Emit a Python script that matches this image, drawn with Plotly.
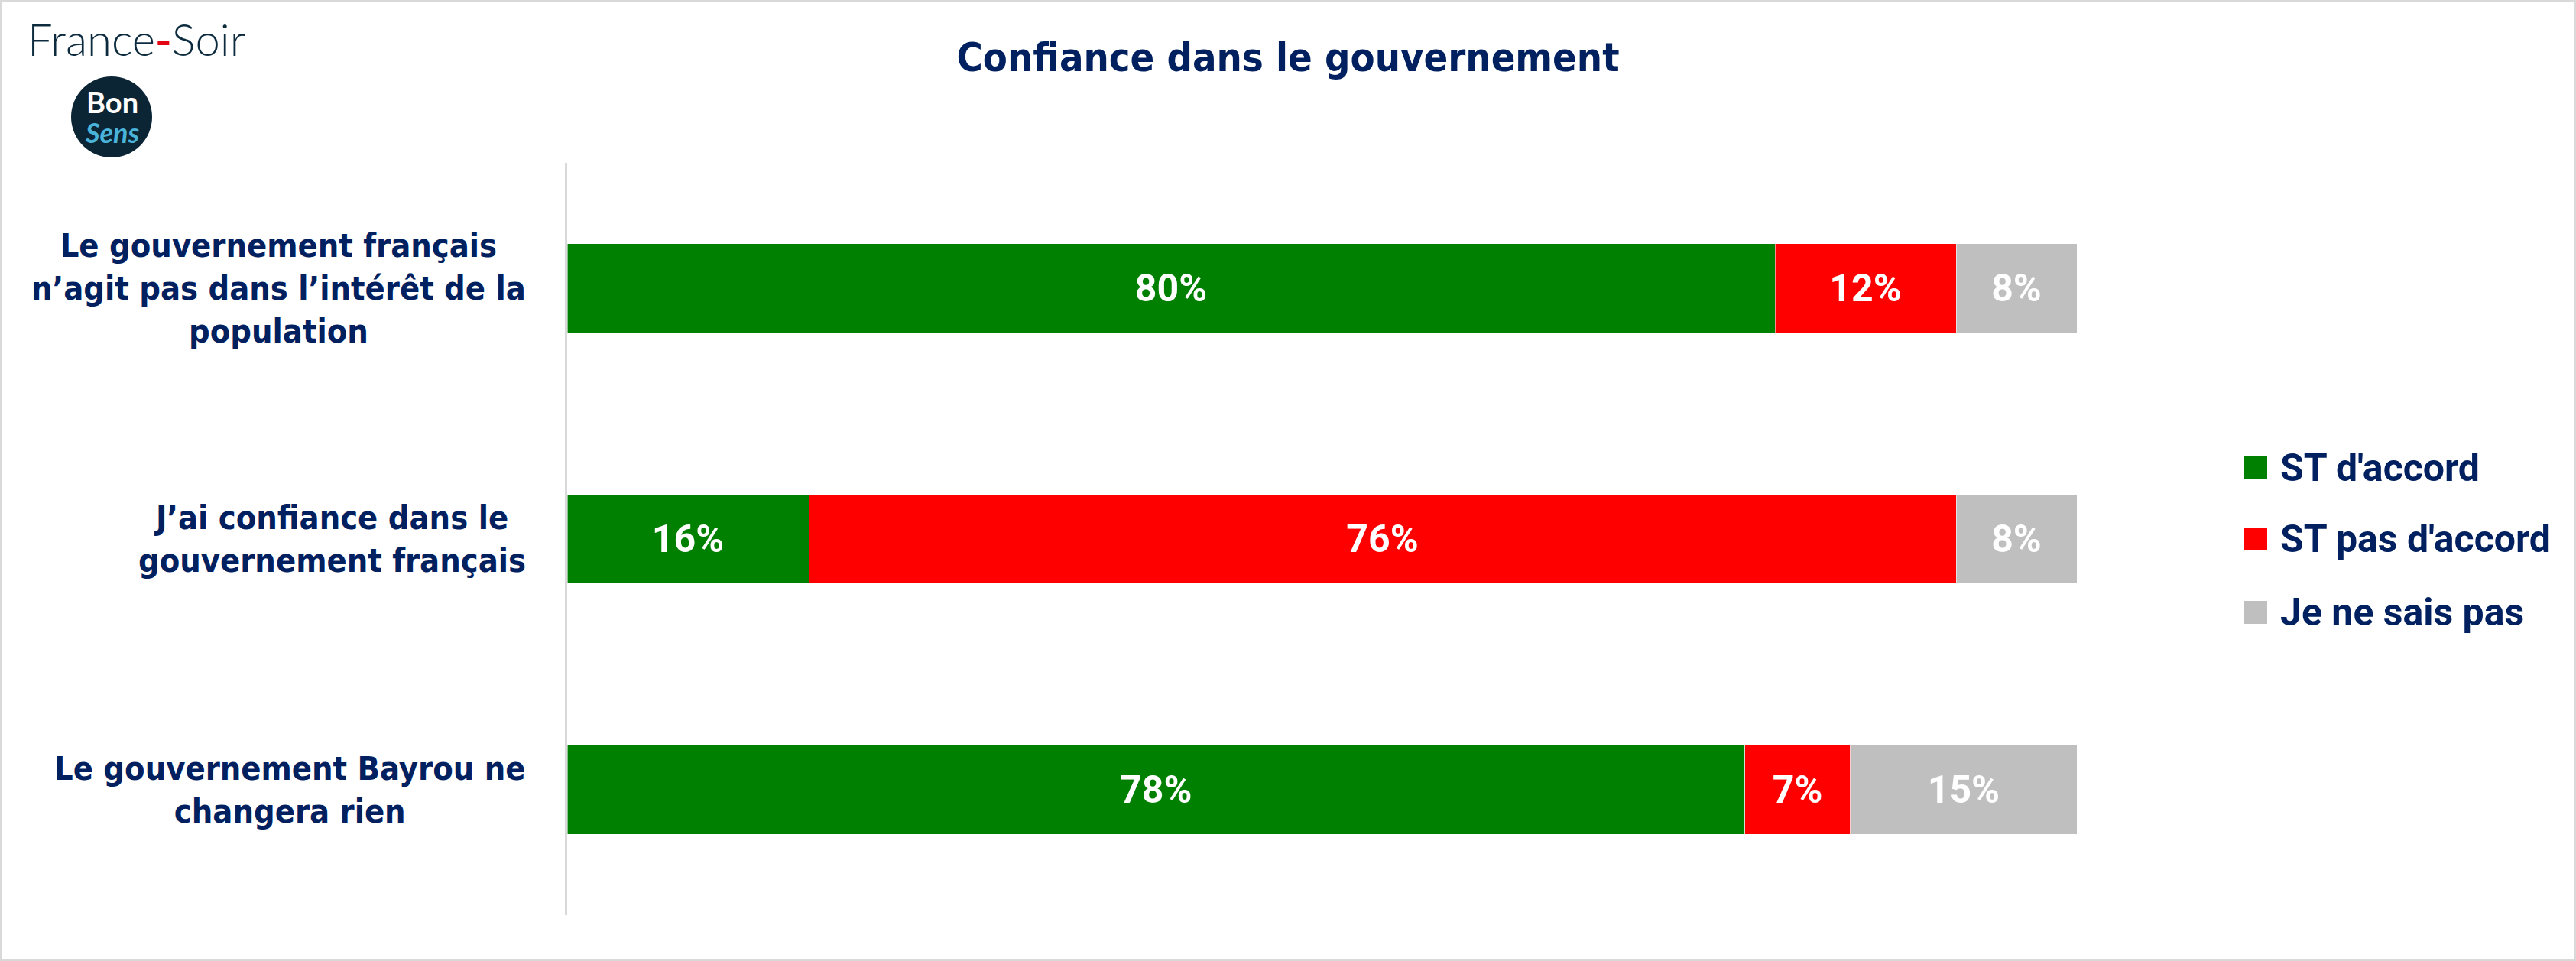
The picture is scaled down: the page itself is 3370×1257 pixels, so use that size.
import plotly.graph_objects as go

# ---------------- data ----------------
categories = [
    "Le gouvernement français<br>n’agit pas dans l’intérêt de la<br>population",
    "J’ai confiance dans le<br>gouvernement français",
    "Le gouvernement Bayrou ne<br>changera rien",
]
series_names = ["ST d'accord", "ST pas d'accord", "Je ne sais pas"]
st_accord = [80, 16, 78]
st_pas_accord = [12, 76, 7]
ne_sait_pas = [8, 8, 15]
series_values = [st_accord, st_pas_accord, ne_sait_pas]
series_colors = ["#008000", "#FF0000", "#BFBFBF"]
title_text = "Confiance dans le gouvernement"

# ---------------- layout constants ----------------
W, H = 3370, 1257
NAVY = "#002060"
COND = "Liberation Sans Narrow, DejaVu Sans Condensed, Arial Narrow, sans-serif"
LBL = "Roboto, Liberation Sans, sans-serif"

def px(x):
    return x / W

def py(y):
    return 1 - y / H

fig = go.Figure()
for name, vals, col in zip(series_names, series_values, series_colors):
    fig.add_trace(go.Bar(
        y=categories, x=vals, name=name, orientation="h",
        marker=dict(color=col, line=dict(color="rgba(255,255,255,0.55)", width=1)),
        texttemplate="%{x:.0f}%", textposition="inside", insidetextanchor="middle",
        textangle=0,
        textfont=dict(family=LBL, size=50, color="white", weight="bold"),
        showlegend=False, hoverinfo="skip",
    ))

annotations = []
shapes = []

# category labels (centered lines, block right-aligned)
for cat in categories:
    annotations.append(dict(
        x=px(690), xref="paper", y=cat, yref="y", xanchor="right", yanchor="middle",
        text=cat, showarrow=False, align="center",
        font=dict(family=COND, size=43, color=NAVY, weight="bold"),
    ))

# legend (manual)
leg_y = [612, 705, 801]
for name, col, yy in zip(series_names, series_colors, leg_y):
    shapes.append(dict(type="rect", xref="paper", yref="paper",
                       x0=px(2936), x1=px(2966), y0=py(yy + 15), y1=py(yy - 15),
                       fillcolor=col, line=dict(width=0)))
    annotations.append(dict(
        x=px(2981), y=py(yy), xref="paper", yref="paper", xanchor="left", yanchor="middle",
        text=name, showarrow=False,
        font=dict(family=LBL, size=50, color=NAVY, weight="bold"),
    ))

# France-Soir logo text
annotations.append(dict(
    x=px(34), y=py(50), xref="paper", yref="paper", xanchor="left", yanchor="middle",
    text="France<span style='color:#E30613'><b>-</b></span>Soir", showarrow=False,
    font=dict(family="Lato, Open Sans, sans-serif", size=58, color="#0D2B3E", weight=300),
))
# Bon Sens badge
shapes.append(dict(type="circle", xref="paper", yref="paper",
                   x0=px(93), x1=px(199), y0=py(206), y1=py(100),
                   fillcolor="#0B2535", line=dict(width=0)))
annotations.append(dict(
    x=px(147), y=py(153), xref="paper", yref="paper", xanchor="center", yanchor="middle",
    text="<span style='color:white;font-size:38px'><b>Bon</b></span><br>"
         "<span style='color:#4AB3D9;font-size:36px'><b><i>Sens</i></b></span>",
    showarrow=False, align="center",
    font=dict(family="Lato, Roboto, sans-serif", size=30, color="white"),
))

# outer border
shapes.append(dict(type="rect", xref="paper", yref="paper", x0=0, x1=1, y0=0, y1=1,
                   line=dict(color="#D9D9D9", width=6), fillcolor="rgba(0,0,0,0)"))

fig.update_layout(
    width=W, height=H,
    margin=dict(l=0, r=0, t=0, b=0),
    paper_bgcolor="white", plot_bgcolor="white",
    barmode="stack", bargap=0.646,
    title=dict(text=title_text, x=0.5, xanchor="center", y=py(75), yanchor="middle",
               font=dict(family=COND, size=52, color=NAVY, weight="bold")),
    xaxis=dict(domain=[px(742), px(2717)], range=[0, 100], visible=False, fixedrange=True),
    yaxis=dict(domain=[py(1197), py(213)], type="category", categoryorder="array",
               categoryarray=categories, autorange="reversed",
               showticklabels=False, showgrid=False, zeroline=False,
               showline=True, linecolor="#D9D9D9", linewidth=3, ticks=""),
    annotations=annotations, shapes=shapes,
    showlegend=False,
)

fig.write_html("out.html", config={"displayModeBar": False},
               post_script="document.body.style.margin='0';document.body.style.overflow='hidden';")
